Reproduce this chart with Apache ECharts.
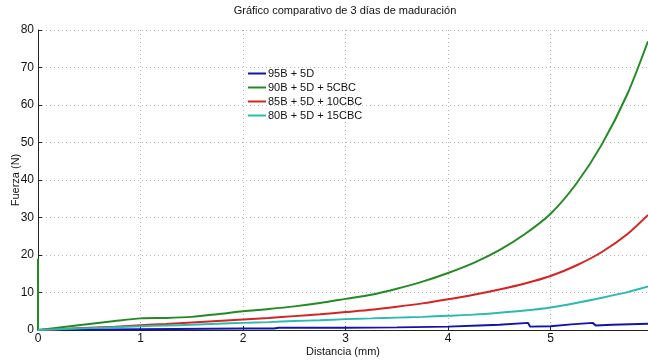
<!DOCTYPE html>
<html>
<head>
<meta charset="utf-8">
<script src="https://cdn.jsdelivr.net/npm/echarts@6/dist/echarts.min.js"></script>
<style>
	html, body { margin: 0; padding: 0; background: #fff; }
	#chart { width: 648px; height: 360px; }
</style>
</head>
<body>
<div id="chart"></div>
<script>
// distancia (mm) comun para las curvas con CBC
var distancia = [0, 0.25, 0.5, 0.75, 1, 1.25, 1.5, 1.75, 2, 2.25, 2.5, 2.75, 3, 3.25, 3.5, 3.75, 4, 4.25, 4.5, 4.75, 5, 5.25, 5.5, 5.75, 5.95];
var fuerza5CBC = [0, 0.8, 1.6, 2.4, 3.1, 3.2, 3.5, 4.2, 5.0, 5.6, 6.3, 7.2, 8.3, 9.4, 11.0, 12.9, 15.2, 17.9, 21.3, 25.6, 31.0, 39.0, 49.5, 63.0, 77];
var fuerza10CBC = [0, 0.3, 0.6, 0.9, 1.3, 1.6, 2.0, 2.4, 2.8, 3.2, 3.7, 4.2, 4.8, 5.4, 6.2, 7.1, 8.2, 9.4, 10.8, 12.4, 14.4, 17.2, 20.8, 25.6, 30.7];
var fuerza15CBC = [0, 0.25, 0.5, 0.75, 1.0, 1.2, 1.4, 1.65, 1.9, 2.1, 2.4, 2.6, 2.9, 3.1, 3.3, 3.5, 3.8, 4.1, 4.6, 5.2, 6.0, 7.2, 8.6, 10.1, 11.6];
// pico inicial de la curva verde en x = 0
var picoInicial = 19;

// 95B + 5D (escalonada)
var distanciaBase = [0, 1, 2, 2.3, 2.35, 3, 3.5, 4, 4.3, 4.5, 4.78, 4.8, 5.0, 5.2, 5.41, 5.44, 5.6, 5.95];
var fuerzaBase = [0, 0.2, 0.4, 0.4, 0.6, 0.6, 0.7, 0.9, 1.2, 1.4, 1.9, 0.9, 1.0, 1.5, 1.9, 1.2, 1.4, 1.7];

var nombres = ['95B + 5D', '90B + 5D + 5CBC', '85B + 5D + 10CBC', '80B + 5D + 15CBC'];
var colores = ['#1414a8', '#238b23', '#d42424', '#2cbab2'];
var yTicks = [0, 10, 20, 30, 40, 50, 60, 70, 80];

function pares(xs, ys) {
	var out = [];
	for (var i = 0; i < xs.length; i++) {
		out.push([xs[i], ys[i]]);
	}
	return out;
}

var datosVerde = [[0, picoInicial]].concat(pares(distancia, fuerza5CBC));

var myChart = echarts.init(document.getElementById('chart'));
var fuente = 'Liberation Sans';

function serie(nombre, color, datos, suave) {
	return {
		name : nombre,
		type : 'line',
		data : datos,
		showSymbol : false,
		symbol : 'none',
		smooth : suave,
		lineStyle : { color : color, width : 2 },
		itemStyle : { color : color }
	};
}

var option = {
	animation : false,
	title : {
		text : 'Gráfico comparativo de 3 días de maduración',
		left : 340,
		top : 0,
		textAlign : 'center',
		textStyle : { fontFamily : fuente, fontSize : 11, fontWeight : 'normal', color : '#111' }
	},
	legend : {
		orient : 'vertical',
		left : 243,
		top : 63,
		itemWidth : 18,
		itemHeight : 2,
		itemGap : 3,
		icon : 'rect',
		data : nombres,
		textStyle : { fontFamily : fuente, fontSize : 11, color : '#111', padding : [0, 0, 0, -3] }
	},
	grid : {
		left : 38,
		right : 0,
		top : 30,
		bottom : 30,
		outerBoundsMode : 'none',
		containLabel : false
	},
	xAxis : {
		type : 'value',
		min : 0,
		max : 5.95,
		interval : 1,
		name : 'Distancia (mm)',
		nameLocation : 'middle',
		nameGap : 16,
		nameMoveOverlap : false,
		nameTextStyle : { fontFamily : fuente, fontSize : 11, color : '#111' },
		axisLine : { lineStyle : { color : '#222', width : 1 } },
		axisTick : { inside : true, length : 4, lineStyle : { color : '#222' } },
		axisLabel : {
			fontFamily : fuente, fontSize : 12, color : '#111', margin : 3,
			showMaxLabel : false,
			formatter : function (v) { return Math.round(v) === v ? String(v) : ''; }
		},
		splitLine : { show : true, lineStyle : { color : '#b4b4b4', type : [1, 3], width : 1 } }
	},
	yAxis : {
		type : 'value',
		min : 0,
		max : 80,
		interval : 10,
		name : 'Fuerza (N)',
		nameLocation : 'middle',
		nameGap : 17,
		nameMoveOverlap : false,
		nameTextStyle : { fontFamily : fuente, fontSize : 11, color : '#111' },
		axisLine : { show : true, lineStyle : { color : '#222', width : 1 } },
		axisTick : { show : true, inside : true, length : 4, lineStyle : { color : '#222' } },
		axisLabel : {
			fontFamily : fuente, fontSize : 12, color : '#111', margin : 4,
			formatter : function (v) { return yTicks.indexOf(v) >= 0 ? String(v) : ''; }
		},
		splitLine : { show : true, lineStyle : { color : '#b4b4b4', type : [1, 3], width : 1 } }
	},
	series : [
		serie(nombres[0], colores[0], pares(distanciaBase, fuerzaBase), false),
		serie(nombres[1], colores[1], datosVerde, 0.25),
		serie(nombres[2], colores[2], pares(distancia, fuerza10CBC), 0.25),
		serie(nombres[3], colores[3], pares(distancia, fuerza15CBC), 0.25)
	]
};
myChart.setOption(option);
</script>
</body>
</html>
